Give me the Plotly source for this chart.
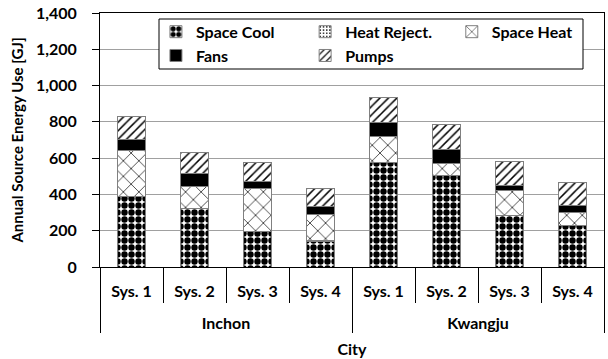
import plotly.graph_objects as go

cities = ["Inchon"] * 4 + ["Kwangju"] * 4
systems = ["Sys. 1", "Sys. 2", "Sys. 3", "Sys. 4"] * 2

space_cool = [387, 320, 195, 143, 575, 502, 283, 228]
heat_reject = [3, 3, 3, 3, 3, 3, 3, 3]
space_heat = [250, 123, 236, 141, 140, 63, 133, 70]
fans = [65, 70, 38, 46, 77, 81, 29, 37]
pumps = [123, 114, 105, 102, 140, 134, 136, 127]

# (name, values, pattern, legend column)
series = [
    ("Space Cool", space_cool, dict(shape=".", size=7, solidity=0.65), "legend"),
    ("Heat Reject.", heat_reject, dict(shape=".", size=4, solidity=0.2), "legend2"),
    ("Space Heat", space_heat, dict(shape="x", size=11, solidity=0.12), "legend3"),
    ("Fans", fans, None, "legend"),
    ("Pumps", pumps, dict(shape="/", size=6, solidity=0.25), "legend2"),
]

city_labels = ["<br>" + c for c in cities]

fig = go.Figure()
for name, vals, pat, leg in series:
    marker = dict(line=dict(color="#808080", width=1))
    if pat is None:
        marker["color"] = "black"
    else:
        marker["color"] = "white"
        marker["pattern"] = dict(fgcolor="black", bgcolor="white", fillmode="replace", **pat)
    fig.add_trace(go.Bar(name=name, x=[city_labels, systems], y=vals, marker=marker,
                         width=0.46, legend=leg, legendgroup=name))

legfont = dict(family="Lato, sans-serif", size=16, color="black", weight="bold")
legcommon = dict(orientation="v", xanchor="left", yanchor="top", y=0.993,
                 borderwidth=0, bgcolor="rgba(0,0,0,0)", traceorder="normal",
                 font=legfont, itemwidth=30, tracegroupgap=4)

fig.update_layout(
    barmode="stack",
    width=608, height=359,
    margin=dict(l=100, r=4, t=13, b=92),
    paper_bgcolor="white", plot_bgcolor="white",
    font=dict(family="Lato, sans-serif", size=15, color="black"),
    legend=dict(x=0.111, **legcommon),
    legend2=dict(x=0.407, **legcommon),
    legend3=dict(x=0.698, **legcommon),
    showlegend=True,
    shapes=[dict(type="rect", xref="paper", yref="paper",
                 x0=(159 - 100) / 504, x1=(583 - 100) / 504,
                 y0=(267 - 69) / 254, y1=(267 - 19) / 254,
                 line=dict(color="black", width=1), fillcolor="white", layer="above")],
)
fig.update_yaxes(
    range=[0, 1400], dtick=200, tickformat=",", automargin=False,
    showgrid=True, gridcolor="#a0a0a0", gridwidth=1,
    showline=True, linecolor="black", linewidth=1, mirror=True,
    ticks="outside", ticklen=7, tickcolor="black", ticklabelstandoff=12,
    ticklabeloverflow="allow",
    tickfont=dict(size=16, weight="bold"),
    title=dict(text="Annual Source Energy Use [GJ]", font=dict(size=15, weight="bold"), standoff=8),
    zeroline=False,
)
fig.update_xaxes(
    type="multicategory", automargin=False,
    showline=True, linecolor="black", linewidth=1, mirror=True,
    ticks="outside", tickson="boundaries", ticklen=35, tickcolor="black",
    ticklabelstandoff=10,
    showdividers=True, dividercolor="black", dividerwidth=1,
    tickfont=dict(size=16, weight="bold"),
    title=dict(text="City", font=dict(size=16, weight="bold"), standoff=12),
)
fig.write_html("out.html", config={"displayModeBar": False},
               post_script="document.body.style.margin='0';")
